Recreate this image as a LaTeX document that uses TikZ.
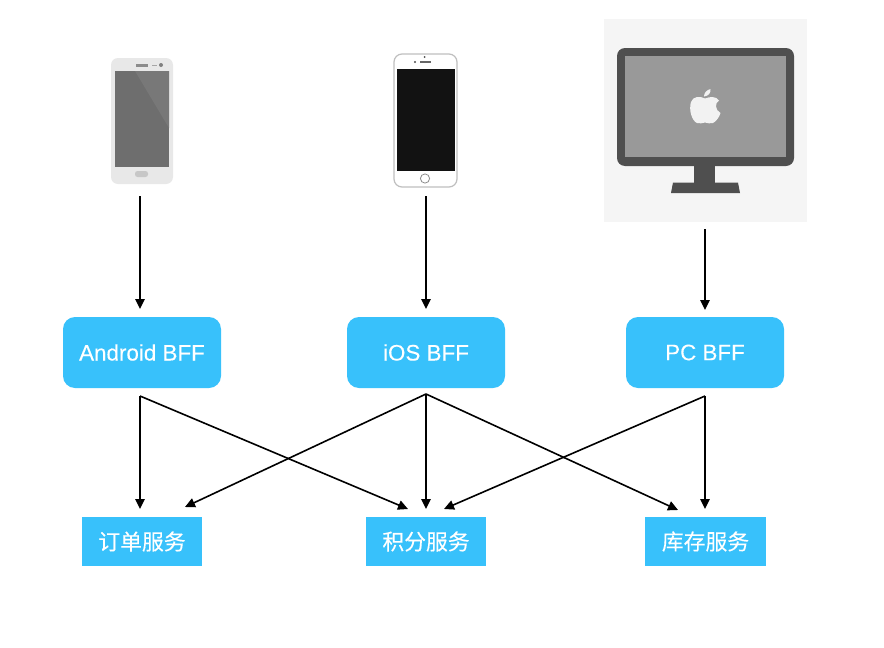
\documentclass[tikz,border=0pt]{standalone}
\usepackage{fontspec}
\setmainfont{Liberation Sans}[FakeBold=0.15]
\newfontfamily\cjkfont{Noto Sans CJK SC}[FakeBold=0.2]
\usetikzlibrary{arrows.meta}
\definecolor{boxblue}{HTML}{38C1FB}
\tikzset{
  bff/.style={fill=boxblue,draw=none,rounded corners=12pt,minimum width=158pt,minimum height=71pt,inner sep=0pt,text=white,font=\bfseries\fontsize{22.4}{26}\selectfont},
  svc/.style={fill=boxblue,draw=none,minimum width=120pt,minimum height=49pt,inner sep=0pt,text=white,font=\cjkfont\fontsize{21.8}{25}\selectfont},
  device/.style={draw=none,inner sep=0pt},
  link/.style={draw=black,line width=1.6pt,-{Triangle[length=10pt,width=9.5pt]}}
}
\begin{document}
\begin{tikzpicture}[x=1pt,y=-1pt]
\useasboundingbox (0,0) rectangle (884,648);
\fill[white] (0,0) rectangle (884,648);

% Android phone
\fill[black!9,rounded corners=7pt] (111,58) rectangle (173,184);
\fill[black!57] (115,71) rectangle (169,167);
\fill[black!53] (135,71) -- (169,71) -- (169,128) -- cycle;
\fill[black!45] (136,64) rectangle (148,66.5);
\fill[black!35] (152,64.5) rectangle (157,66);
\fill[black!50] (161,65) circle (2);
\fill[black!22,rounded corners=2.5pt] (135,171) rectangle (148,177);
\node[device,minimum width=62pt,minimum height=126pt] (androidphone) at (142,121) {};

% iPhone
\fill[white,draw=black!25,line width=1.2pt,rounded corners=8pt] (394,54) rectangle (457,187);
\fill[black!93] (397,69) rectangle (455,171);
\fill[black!70] (424.5,57) circle (1);
\fill[black!70] (415,62) circle (1.2);
\fill[black!60] (420,61) rectangle (431,63);
\draw[black!45,line width=.8pt] (425,178.5) circle (4.6);
\node[device,minimum width=63pt,minimum height=133pt] (iphone) at (425.5,120.5) {};

% iMac
\fill[black!4] (604,19) rectangle (807,222);
\fill[black!69,rounded corners=8pt] (617,48) rectangle (794,166);
\fill[black!40] (625,56) rectangle (786,157);
\fill[black!69] (694,165) rectangle (715,183);
\fill[black!69] (673,182.5) -- (738,182.5) -- (740,193) -- (671,193) -- cycle;
\fill[black!5] (705,98.5)
  .. controls (700,96) and (693,96) .. (691,102)
  .. controls (688.5,110) and (692,121) .. (697,123)
  .. controls (700,124.5) and (702,122.5) .. (705,122.5)
  .. controls (708,122.5) and (710,124.5) .. (713,123)
  .. controls (716,121.5) and (719.5,117) .. (720.5,113)
  .. controls (715,110) and (714.5,103) .. (719,100.5)
  .. controls (716,96) and (710,96.5) .. (705,98.5) -- cycle;
\fill[black!5] (704,96.5) .. controls (704,93) and (706.5,90) .. (710.5,89)
  .. controls (711,93) and (708.5,96) .. (704,96.5) -- cycle;
\node[device,minimum width=203pt,minimum height=203pt] (imac) at (705.5,120.5) {};

% BFF boxes
\node[bff] (androidbff) at (142,352.5) {\mdseries Android BFF};
\node[bff] (iosbff) at (426,352.5) {\mdseries iOS BFF};
\node[bff] (pcbff) at (705,352.5) {\mdseries PC BFF};

% service boxes
\node[svc] (order) at (142,541.5) {订单服务};
\node[svc] (points) at (426,541.5) {积分服务};
\node[svc,minimum width=121pt] (stock) at (705.5,541.5) {库存服务};

% connector ends
\coordinate (androidtop) at (140,196);
\coordinate (androidin) at (140,309);
\coordinate (iostop) at (426,196);
\coordinate (iosin) at (426,309);
\coordinate (pctop) at (705,229);
\coordinate (pcin) at (705,310);
\coordinate (androidout) at (140,396);
\coordinate (iosout) at (426,394);
\coordinate (pcout) at (705,396);
\coordinate (orderin) at (140,509);
\coordinate (orderdiag) at (185,507);
\coordinate (pointsin) at (426,509);
\coordinate (pointsleft) at (408,509);
\coordinate (pointsright) at (444,509);
\coordinate (stockin) at (705,509);
\coordinate (stockdiag) at (678,510);

\draw[link] (androidtop) -- (androidin);
\draw[link] (iostop) -- (iosin);
\draw[link] (pctop) -- (pcin);
\draw[link] (androidout) -- (orderin);
\draw[link] (androidout) -- (pointsleft);
\draw[link] (iosout) -- (orderdiag);
\draw[link] (iosout) -- (pointsin);
\draw[link] (iosout) -- (stockdiag);
\draw[link] (pcout) -- (pointsright);
\draw[link] (pcout) -- (stockin);
\end{tikzpicture}
\end{document}
